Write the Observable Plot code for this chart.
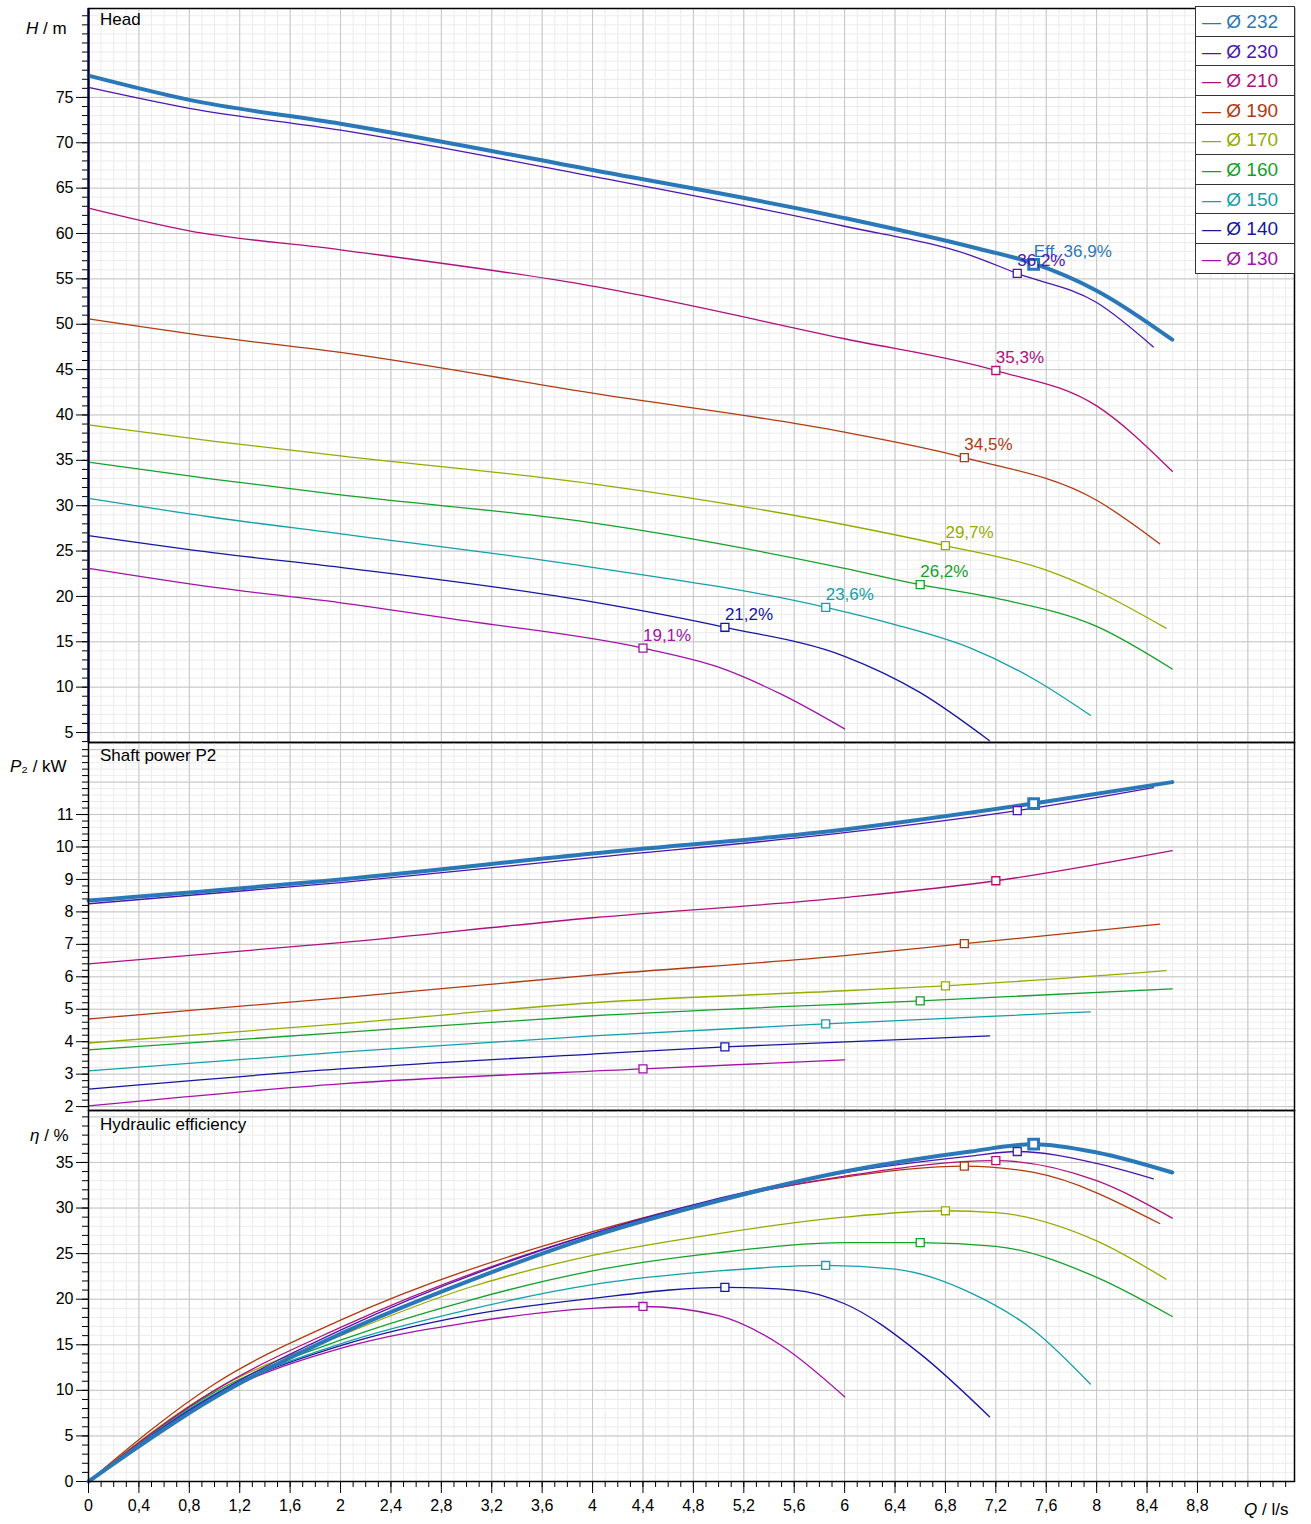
<!DOCTYPE html>
<html><head><meta charset="utf-8">
<script src="https://cdn.jsdelivr.net/npm/d3@7"></script>
<script src="https://cdn.jsdelivr.net/npm/@observablehq/plot@0.6"></script>
<style>
body{margin:0;background:#fff;font-family:"Liberation Sans",Arial,sans-serif;}
#wrap{position:relative;width:1311px;height:1524px;}
.ax{position:absolute;font-size:17px;color:#000;white-space:nowrap}
.ttl{position:absolute;font-size:17px;color:#000}
#legend{position:absolute;left:1195px;top:6px;width:98px;border:1px solid #333;background:#fff}
#legend div{height:29.6px;line-height:29.6px;border-bottom:1px solid #333;font-size:19px;padding-left:6px;box-sizing:border-box}
#legend div:last-child{border-bottom:none}
svg{display:block}
</style></head><body><div id="wrap"></div>
<script>
const names=["232","230","210","190","170","160","150","140","130"];
const colors=["#2a78b8","#4a16b0","#b0107c","#b03a10","#98aa00","#14a02a","#12a0aa","#1616a0","#a212a8"];
// head [Q, H]
const H232=[[0,77.4],[0.81,74.7],[2,72.1],[4,67],[6,61.7],[7.04,58.4],[7.5,56.7],[8,53.7],[8.6,48.3]];
const H230=[[0,76.1],[0.8,73.8],[2,71.4],[4,66.3],[6,60.8],[7,57.6],[7.37,55.6],[8,52.4],[8.45,47.5]];
const H210=[[0,62.8],[0.8,60.3],[2,58.2],[4,54.2],[6,48.4],[7.2,44.9],[8,41],[8.6,33.8]];
const H190=[[0,50.6],[1,48.6],[2,46.9],[4,42.4],[6,38.1],[6.95,35.3],[8,30.6],[8.5,25.8]];
const H170=[[0,38.9],[1,37.1],[2,35.5],[4,32.4],[6,27.9],[6.8,25.6],[7.6,22.9],[8,20.6],[8.55,16.5]];
const H160=[[0,34.8],[1,32.9],[2,31.2],[4,28.1],[6,23.1],[6.6,21.3],[7.2,19.8],[8,16.7],[8.6,12.0]];
const H150=[[0,30.8],[1,28.7],[2,26.9],[4,23.2],[5.85,18.8],[6.4,16.9],[7,14.3],[7.5,10.9],[7.95,6.9]];
const H140=[[0,26.7],[1,24.8],[2,23.2],[4,19.4],[5.05,16.6],[6,13.4],[6.6,9.4],[7.15,4.1]];
const H130=[[0,23.1],[1,21.0],[2,19.3],[3,17.3],[4.4,14.3],[5,12.2],[5.5,9.2],[6,5.4]];
// power [Q, P2]
const P232=[[0,8.35],[2,9.0],[4,9.8],[6,10.54],[7.5,11.34],[8.6,12.0]];
const P230=[[0,8.25],[2,8.9],[4,9.67],[6,10.44],[7.37,11.12],[8.45,11.83]];
const P210=[[0,6.4],[2,7.05],[4,7.82],[6,8.44],[7.2,8.96],[8.6,9.89]];
const P190=[[0,4.7],[2,5.35],[4,6.05],[6,6.65],[6.95,7.02],[8.5,7.62]];
const P170=[[0,3.96],[2,4.55],[4,5.2],[6,5.57],[6.8,5.72],[8.55,6.19]];
const P160=[[0,3.75],[2,4.28],[4,4.8],[6.6,5.26],[8.6,5.63]];
const P150=[[0,3.1],[2,3.68],[4,4.18],[5.85,4.55],[7.95,4.92]];
const P140=[[0,2.54],[2,3.16],[4,3.62],[5.05,3.84],[7.15,4.18]];
const P130=[[0,2.02],[2,2.7],[4.4,3.16],[6,3.44]];
// efficiency [Q, eta]
const E232=[[0,0],[1,9.2],[2,16.2],[3,21.9],[4,26.9],[5,30.8],[6,34.0],[7,36.2],[7.5,37.0],[8,36.1],[8.6,33.9]];
const E230=[[0,0],[1,9.5],[2,16.6],[4,27.2],[6,33.9],[7,35.7],[7.37,36.2],[8,34.9],[8.45,33.2]];
const E210=[[0,0],[1,10],[2,16.9],[4,27.2],[6,33.5],[7.2,35.2],[8,33],[8.6,28.9]];
const E190=[[0,0],[1,10.7],[2,17.7],[4,27.4],[6,33.4],[6.95,34.6],[7.5,33.9],[8.5,28.3]];
const E170=[[0,0],[1,10],[2,16],[3,21.2],[4,24.8],[5,27.2],[6,29],[6.8,29.7],[7.2,29.5],[8,26.4],[8.55,22.2]];
const E160=[[0,0],[1,9.8],[2,15.5],[3,19.8],[4,23.1],[5,25.1],[6,26.2],[6.6,26.2],[7.2,25.8],[8,22.4],[8.6,18.1]];
const E150=[[0,0],[1,9.6],[2,15.1],[3,18.8],[4,21.6],[5,23.1],[5.85,23.7],[6.4,23.3],[7,20.7],[7.5,16.6],[7.95,10.7]];
const E140=[[0,0],[1,9.5],[2,14.9],[3,18.2],[4,20.1],[5.05,21.3],[5.6,21],[6,19.5],[6.6,14],[7.15,7.1]];
const E130=[[0,0],[1,9.4],[2,14.6],[3,17.4],[4,19],[4.4,19.2],[5,18.2],[5.5,14.9],[6,9.3]];
// operating points
const opQ=[7.5,7.37,7.2,6.95,6.8,6.6,5.85,5.05,4.4];
const opH=[56.6,55.6,44.9,35.3,25.6,21.3,18.8,16.6,14.3];
const opP=[11.34,11.12,8.96,7.02,5.72,5.26,4.55,3.84,3.16];
const opE=[37.0,36.2,35.2,34.6,29.7,26.2,23.7,21.3,19.2];
const opLabel=["Eff. 36,9%","36,2%","35,3%","34,5%","29,7%","26,2%","23,6%","21,2%","19,1%"];
const xMajor=d3.range(0,9.6,0.4).map(v=>+v.toFixed(1));
const xMinor=d3.range(0,9.6,0.1).map(v=>+v.toFixed(1));
const xLabels=d3.range(0,9.0,0.4).map(v=>+v.toFixed(1));

const heads=[H232,H230,H210,H190,H170,H160,H150,H140,H130];
const pows=[P232,P230,P210,P190,P170,P160,P150,P140,P130];
const effs=[E232,E230,E210,E190,E170,E160,E150,E140,E130];

const fmt=v=>String(v).replace(".",",");
const blank=()=>"";
const XD=[0,9.57];
function panel({height,mt,mb,yd,yMajor,yMinor,yLab,curves,opY,labels,showX,extra}){
  const marks=[
    Plot.ruleX(xMinor,{stroke:"#ececec",strokeWidth:1}),
    Plot.ruleY(yMinor,{stroke:"#ececec",strokeWidth:1}),
    Plot.ruleX(xMajor,{stroke:"#c6c6c6",strokeWidth:1}),
    Plot.ruleY(yMajor,{stroke:"#c6c6c6",strokeWidth:1}),
    Plot.axisY({ticks:yMinor,tickSize:6,tickFormat:blank,label:null,stroke:"#000"}),
    Plot.axisY({ticks:yLab,tickSize:12,tickPadding:3,fontSize:16,tickFormat:fmt,label:null,stroke:"#000"}),
  ];
  if(extra) marks.push(...extra);
  for(let i=curves.length-1;i>=0;i--){
    marks.push(Plot.line(curves[i],{x:d=>d[0],y:d=>d[1],stroke:colors[i],strokeWidth:i==0?4:1.3,curve:"monotone-x"}));
  }
  const ops=names.map((n,i)=>({q:opQ[i],v:opY[i],c:colors[i],i,l:opLabel[i]}));
  marks.push(Plot.dot(ops.filter(d=>d.i>0),{x:"q",y:"v",symbol:"square",r:4.5,fill:"#fff",stroke:"c",strokeWidth:1.3}));
  marks.push(Plot.dot(ops.filter(d=>d.i==0),{x:"q",y:"v",symbol:"square",r:5.5,fill:"#fff",stroke:"c",strokeWidth:3}));
  if(labels) marks.push(Plot.text(ops,{x:"q",y:"v",text:"l",fill:"c",dy:-13,textAnchor:"start",fontSize:17}));
  if(showX){
    marks.push(Plot.axisX({ticks:xMinor,tickSize:6,tickFormat:blank,label:null}));
    marks.push(Plot.axisX({ticks:xLabels,tickSize:12,fontSize:16,tickPadding:6,tickFormat:fmt,label:null}));
  }
  marks.push(Plot.frame({stroke:"#000",strokeWidth:1.5}));
  return Plot.plot({width:1311,height,marginLeft:88,marginRight:17,marginTop:mt,marginBottom:mb,
    style:{fontFamily:"Liberation Sans, Arial, sans-serif",fontSize:"16px",color:"#000",overflow:"visible"},
    x:{domain:XD,axis:null},y:{domain:yd,axis:null},marks});
}
const wrap=document.getElementById("wrap");
const r1=d3.range(4,85,1), r5=d3.range(5,80,5);
wrap.append(panel({height:742,mt:8,mb:0,yd:[3.9,84.8],yMajor:r5,yMinor:r1,yLab:r5,curves:heads,opY:opH,labels:true,
  extra:[Plot.ruleX([0],{stroke:"#1616a0",strokeWidth:2.5})]}));
wrap.append(panel({height:368,mt:0,mb:0,yd:[1.88,13.22],yMajor:d3.range(2,14,1),yMinor:d3.range(2,13.2,0.2).map(v=>+v.toFixed(1)),yLab:d3.range(2,12,1),curves:pows,opY:opP}));
wrap.append(panel({height:414,mt:0,mb:43,yd:[0,40.7],yMajor:d3.range(0,41,5),yMinor:d3.range(0,41,1),yLab:d3.range(0,40,5),curves:effs,opY:opE,showX:true}));

function add(cls,html,l,t){const d=document.createElement("div");d.className=cls;d.innerHTML=html;d.style.left=l+"px";d.style.top=t+"px";wrap.append(d);}
add("ttl","Head",100,10);
add("ttl","Shaft power P2",100,746);
add("ttl","Hydraulic efficiency",100,1115);
add("ax","<i>H</i> / m",26,19);
add("ax","<i>P</i>₂ / kW",10,757);
add("ax","<i>η</i> / %",30,1126);
add("ax","<i>Q</i> / l/s",1244,1500);
const lg=document.createElement("div");lg.id="legend";
names.forEach((n,i)=>{const r=document.createElement("div");r.style.color=colors[i];r.textContent="— Ø "+n;lg.append(r);});
wrap.append(lg);
</script></body></html>
